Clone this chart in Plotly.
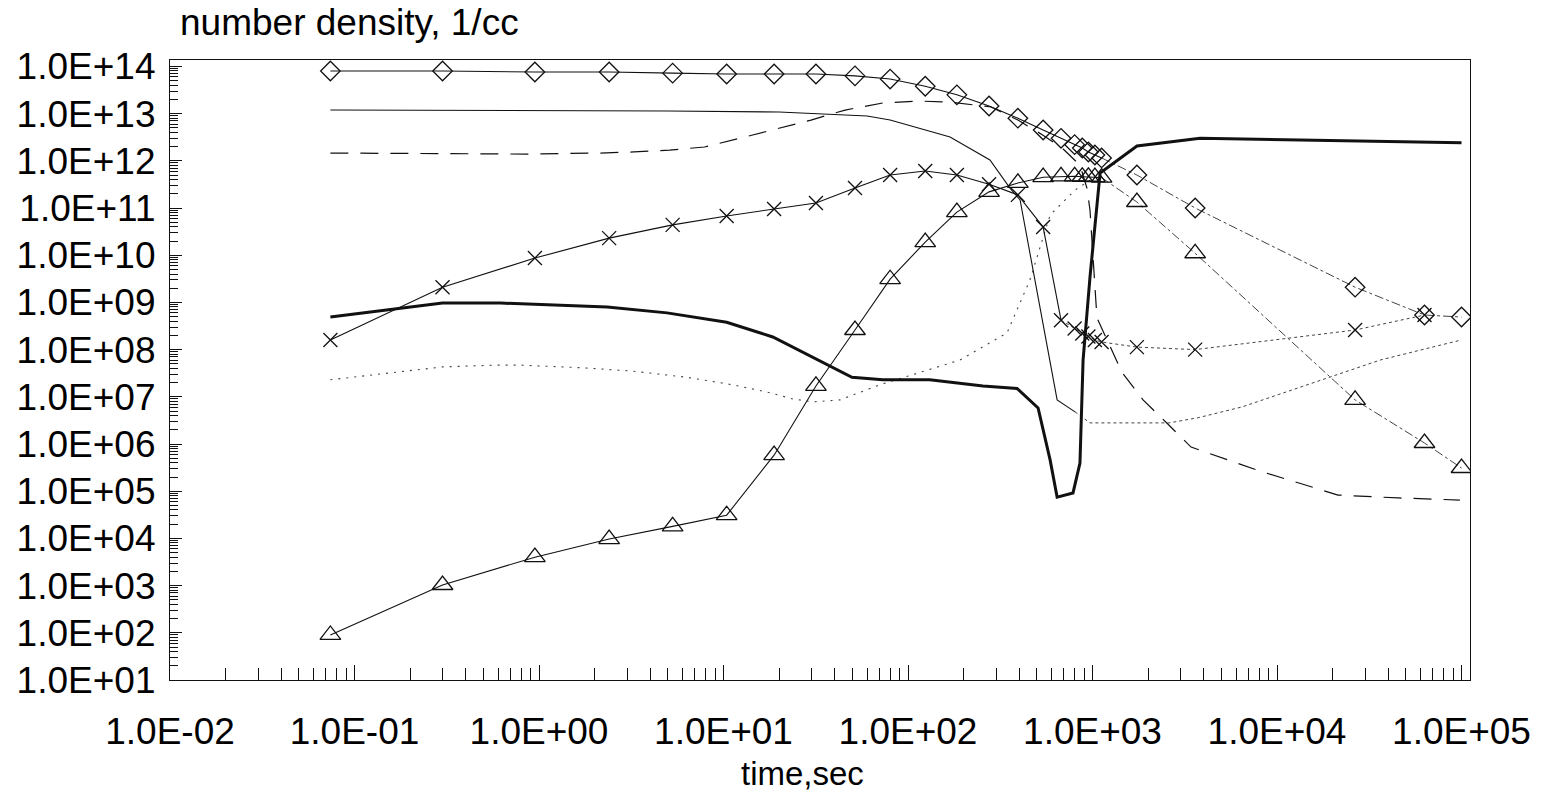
import plotly.graph_objects as go

# ---------------- data ----------------
# marker series share (roughly) the same output times, s
T_MARK = [0.074, 0.30, 0.95, 2.4, 5.3, 10.4, 18.8, 31.7, 51.6, 80, 124, 184, 275,
          394, 540, 675, 800, 880, 950, 1030, 1120, 1740, 3600, 26500, 63000, 100000]

DIAMOND = [8.0e13, 8.0e13, 7.6e13, 7.6e13, 7.2e13, 6.9e13, 6.9e13, 6.9e13, 6.3e13, 5.4e13,
           3.8e13, 2.5e13, 1.45e13, 8.0e12, 4.5e12, 3.0e12, 2.2e12, 1.87e12, 1.54e12,
           1.33e12, 1.15e12, 5.0e11, 1.0e11, 2.1e9, 5.4e8, 4.9e8]

TRIANGLE = [90, 1030, 4000, 9700, 1.8e4, 3.1e4, 5.8e5, 1.7e7, 2.6e8, 3.1e9, 1.9e10, 8.2e10,
            2.2e11, 3.4e11, 4.5e11, 4.7e11, 4.7e11, 4.6e11, 4.6e11, 4.5e11, 4.4e11, 1.34e11,
            1.1e10, 8.6e6, 1.05e6, 3.1e5]

CROSS = [1.6e8, 2.1e9, 8.7e9, 2.3e10, 4.4e10, 6.8e10, 9.5e10, 1.28e11, 2.65e11, 5.0e11,
         6.1e11, 5.0e11, 3.2e11, 1.9e11, 3.95e10, 4.2e8, 2.8e8, 2.2e8, 1.9e8, 1.6e8,
         1.45e8, 1.13e8, 1.0e8, 2.6e8, 5.4e8]

# thick solid curve
THICK_T = [0.074, 0.30, 0.62, 2.34, 4.94, 10.4, 18.5, 36.8, 49.7, 73, 131, 255, 390, 507,
           589, 643, 784, 855, 889, 969, 1099, 1742, 3828, 13300, 100000]
THICK_N = [4.9e8, 9.7e8, 9.7e8, 8.0e8, 6.0e8, 3.8e8, 1.85e8, 4.7e7, 2.6e7, 2.3e7, 2.3e7,
           1.7e7, 1.5e7, 5.8e6, 4.6e5, 7.5e4, 9.2e4, 3.95e5, 6.0e7, 3.45e9, 5.5e11,
           2.06e12, 3.0e12, 2.76e12, 2.4e12]

# thin solid curve (starts near 1.2E13), with faded dotted tail
THIN_T = [0.074, 5.0, 20, 39, 60, 80, 169, 278, 357, 405, 643, 804,
          969, 2600, 3730, 6460, 14500, 36200, 85500, 100000]
THIN_N = [1.19e13, 1.14e13, 1.08e13, 9.8e12, 8.9e12, 7.3e12, 3.2e12, 1.04e12, 2.65e11,
          1.48e11, 8.6e6, 4.8e6, 2.8e6, 2.8e6, 3.6e6, 6.1e6, 1.8e7, 6.0e7, 1.38e8, 1.6e8]

# long-dashed curve
DASH_T = [0.074, 0.86, 2.14, 3.27, 5.1, 7.9, 12.4, 19.3, 29.8, 45.6, 73, 113, 169, 282,
          394, 539, 684, 855, 933, 969, 1044, 1057, 1445, 1879, 2600, 3420, 5420, 8390,
          21400, 45300, 98000]
DASH_N = [1.46e12, 1.39e12, 1.46e12, 1.54e12, 1.69e12, 1.96e12, 3.04e12, 4.7e12, 7.3e12,
          1.19e13, 1.68e13, 1.85e13, 1.76e13, 1.38e13, 7.3e12, 3.5e12, 1.87e12, 8.1e11,
          2.65e11, 9.1e10, 1.1e9, 4.7e8, 3.3e7, 8.6e6, 2.5e6, 8.6e5, 4.6e5, 2.55e5,
          8.3e4, 7.2e4, 6.5e4]

# dotted curve
DOT_T = [0.074, 0.30, 0.59, 0.79, 1.77, 3.2, 6.3, 11.2, 17.2, 23.8, 30.6, 42.8, 70.5,
         191, 344, 458, 589, 804, 969]
DOT_N = [2.3e7, 4.3e7, 4.7e7, 4.7e7, 4.1e7, 3.5e7, 2.6e7, 1.8e7, 1.26e7, 9.0e6, 7.8e6,
         8.6e6, 1.8e7, 6.0e7, 2.25e8, 3.0e9, 7.1e10, 2.4e11, 3.9e11]

X_TICKS = [1e-2, 1e-1, 1e0, 1e1, 1e2, 1e3, 1e4, 1e5]
X_LABELS = ["1.0E-02", "1.0E-01", "1.0E+00", "1.0E+01", "1.0E+02", "1.0E+03", "1.0E+04", "1.0E+05"]
Y_TICKS = [10.0 ** k for k in range(1, 15)]
Y_LABELS = ["1.0E+%02d" % k for k in range(1, 15)]

# ---------------- figure ----------------
INK = "#111111"
FAINT = "#444444"
FONT = "Liberation Sans, Arial, Helvetica, sans-serif"
FS = 37

fig = go.Figure()

def line(x, y, width=1.1, dash="solid", color=INK):
    fig.add_trace(go.Scatter(x=x, y=y, mode="lines",
                             line=dict(color=color, width=width, dash=dash),
                             hoverinfo="skip", showlegend=False))

def marked(x, y, symbol, size, split, tail_dash):
    # early part solid with markers, faded late part dash-dotted
    fig.add_trace(go.Scatter(x=x[:split + 1], y=y[:split + 1], mode="lines",
                             line=dict(color=INK, width=1.1), hoverinfo="skip",
                             showlegend=False))
    fig.add_trace(go.Scatter(x=x[split:], y=y[split:], mode="lines",
                             line=dict(color=FAINT, width=1.0, dash=tail_dash),
                             hoverinfo="skip", showlegend=False))
    fig.add_trace(go.Scatter(x=x, y=y, mode="markers",
                             marker=dict(symbol=symbol, size=size, color=INK,
                                         line=dict(color=INK, width=1.3)),
                             hoverinfo="skip", showlegend=False))

# thin curves
line(THIN_T[:12], THIN_N[:12], width=1.1)
line(THIN_T[11:], THIN_N[11:], width=1.0, dash="dot", color=FAINT)
line(DASH_T, DASH_N, width=1.2, dash="18px,12px")
line(DOT_T, DOT_N, width=1.1, dash="2px,6px", color=FAINT)

# marker series
marked(T_MARK, DIAMOND, "diamond-open", 15, 20, "dashdot")
marked(T_MARK, TRIANGLE, "triangle-up-open", 18, 20, "dashdot")
marked(T_MARK[:len(CROSS)], CROSS, "x-thin-open", 14, 15, "dot")

# thick curve
line(THICK_T, THICK_N, width=3.0)

axis_common = dict(type="log", showgrid=False, zeroline=False, showline=True,
                   linecolor=INK, linewidth=1.2, mirror=True, ticks="inside",
                   tickcolor=INK, tickwidth=1, tickfont=dict(family=FONT, size=FS, color="black"))

minor_x = [m * 10.0 ** k for k in range(-2, 5) for m in range(2, 10)]
minor_y = [m * 10.0 ** k for k in range(1, 14) for m in range(2, 10)]

fig.update_xaxes(range=[-2, 5.046], tickmode="array", tickvals=X_TICKS, ticktext=X_LABELS,
                 ticklen=15, ticklabelstandoff=18,
                 minor=dict(tickmode="array", tickvals=minor_x, ticks="inside",
                            ticklen=12, tickcolor=INK, showgrid=False),
                 **axis_common)
fig.update_yaxes(range=[1, 14.136], tickmode="array", tickvals=Y_TICKS, ticktext=Y_LABELS,
                 ticklen=12, ticklabelstandoff=6,
                 minor=dict(tickmode="array", tickvals=minor_y, ticks="inside",
                            ticklen=8, tickcolor=INK, showgrid=False),
                 **axis_common)

fig.update_layout(
    width=1547, height=793,
    margin=dict(l=170, r=77, t=60, b=113),
    paper_bgcolor="white", plot_bgcolor="white",
    font=dict(family=FONT, size=FS, color="black"),
    annotations=[
        dict(text="number density, 1/cc", xref="paper", yref="paper",
             x=(178 - 170) / 1300, y=(680 - 22) / 620, xanchor="left", yanchor="middle",
             showarrow=False, font=dict(family=FONT, size=FS, color="black")),
        dict(text="time,sec", xref="paper", yref="paper",
             x=(802 - 170) / 1300, y=(680 - 773) / 620, xanchor="center", yanchor="middle",
             showarrow=False, font=dict(family=FONT, size=33, color="black")),
    ],
)

fig.write_html("out.html")
